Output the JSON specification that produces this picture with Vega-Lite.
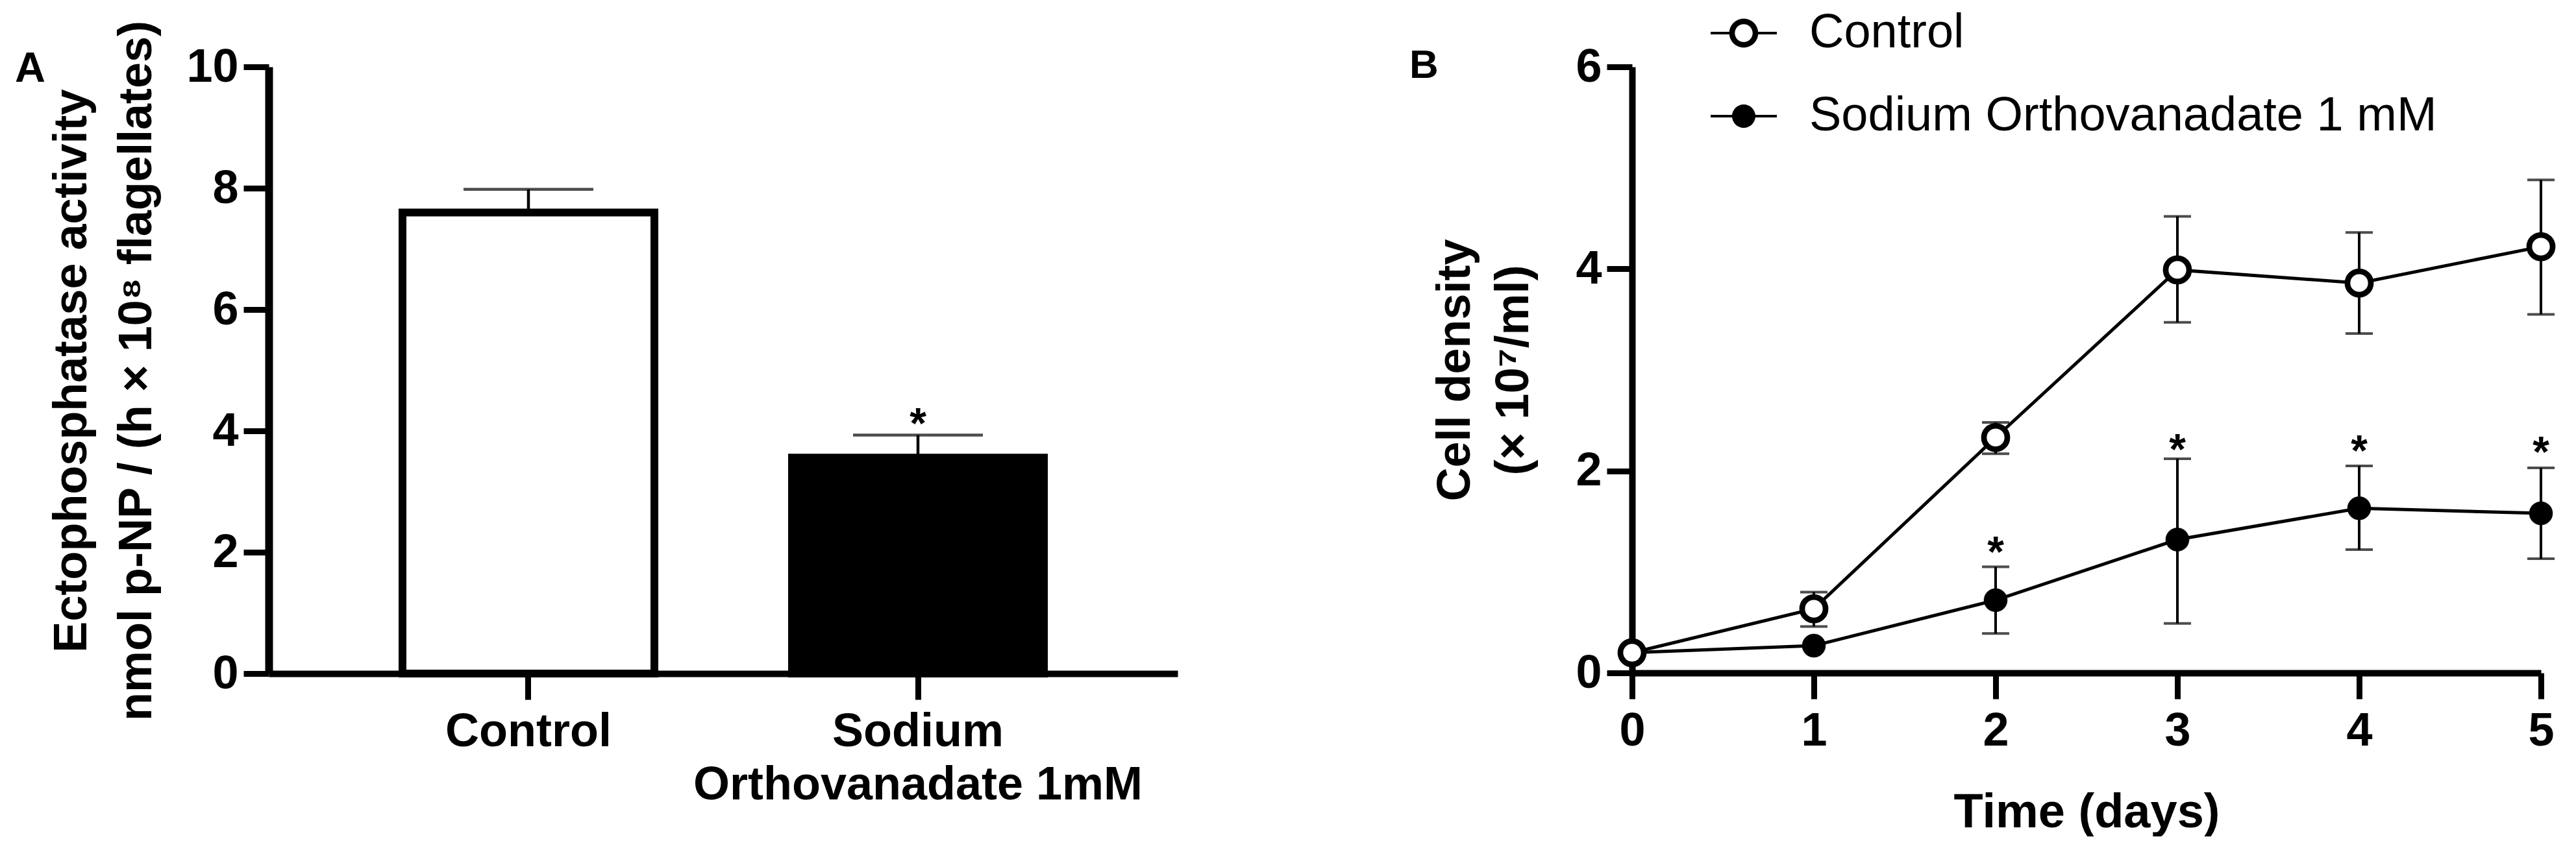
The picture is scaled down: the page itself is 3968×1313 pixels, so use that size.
{
  "$schema": "https://vega.github.io/schema/vega-lite/v6.json",
  "background": "white",
  "padding": {"left": 23, "top": 0, "right": 10, "bottom": 0},
  "bounds": "flush",
  "spacing": 700,
  "resolve": {"scale": {"shape": "independent"}, "legend": {"shape": "independent"}},
  "config": {
    "view": {"stroke": null},
    "font": "Liberation Sans",
    "axis": {
      "domainColor": "black", "tickColor": "black", "labelColor": "black", "titleColor": "black",
      "labelFont": "Liberation Sans", "titleFont": "Liberation Sans",
      "labelFontWeight": "bold", "titleFontWeight": "bold",
      "labelFontSize": 72, "titleFontSize": 72,
      "grid": false, "tickSize": 39, "tickWidth": 9, "domainWidth": 10,
      "labelPadding": 8, "labelLimit": 3000, "labelOverlap": false, "labelFlush": false
    },
    "title": {"font": "Liberation Sans", "fontWeight": "bold", "color": "black"}
  },
  "hconcat": [
    {
      "width": 1400,
      "height": 935,
      "title": {"text": "A", "anchor": "start", "frame": "group", "orient": "top", "fontSize": 65, "dx": -391, "dy": 160, "offset": 0, "baseline": "alphabetic"},
      "data": {"values": [
        {"group": "Control", "mean": 7.6, "upper": 7.98, "star": null},
        {"group": "Sodium Orthovanadate 1mM", "mean": 3.56, "upper": 3.93, "star": 4.29}
      ]},
      "encoding": {
        "x": {
          "field": "group", "type": "nominal", "sort": null,
          "scale": {"domain": ["Control", "Sodium Orthovanadate 1mM"], "paddingInner": 0.3533, "paddingOuter": 0.3433},
          "axis": {
            "title": null, "labelAngle": 0, "tickSize": 40, "labelPadding": 14,
            "labelExpr": "datum.value === 'Sodium Orthovanadate 1mM' ? ['Sodium', 'Orthovanadate 1mM'] : datum.label",
            "labelLineHeight": 82, "labelBaseline": "top"
          }
        }
      },
      "layer": [
        {
          "mark": {"type": "rule", "strokeWidth": 4.5, "color": "black"},
          "encoding": {
            "y": {
              "field": "mean", "type": "quantitative",
              "scale": {"domain": [0, 10], "nice": false},
              "axis": {
                "values": [0, 2, 4, 6, 8, 10], "format": "d", "domainWidth": 12,
                "title": ["Ectophosphatase activity", "nmol p-NP / (h × 10⁸ flagellates)"],
                "titleAngle": -90, "titleBaseline": "alphabetic", "titleAlign": "center",
                "titleX": -282, "titleY": 468, "titleLineHeight": 100
              }
            },
            "y2": {"field": "upper"}
          }
        },
        {
          "mark": {"type": "tick", "size": 200, "thickness": 4.5, "color": "black", "orient": "horizontal"},
          "encoding": {"y": {"field": "upper", "type": "quantitative"}}
        },
        {
          "mark": {"type": "bar", "stroke": "black", "strokeWidth": 12},
          "encoding": {
            "y": {"field": "mean", "type": "quantitative"},
            "fill": {"field": "group", "type": "nominal", "scale": {"domain": ["Control", "Sodium Orthovanadate 1mM"], "range": ["white", "black"]}, "legend": null}
          }
        },
        {
          "transform": [{"filter": "isValid(datum.star)"}],
          "mark": {"type": "text", "text": "*", "fontSize": 66, "fontWeight": "bold", "font": "Liberation Sans", "color": "black", "baseline": "middle", "dy": 18},
          "encoding": {"y": {"field": "star", "type": "quantitative"}}
        }
      ]
    },
    {
      "width": 1400,
      "height": 934,
      "title": {"text": "B", "anchor": "start", "frame": "group", "orient": "top", "fontSize": 62, "dx": -343, "dy": 182, "offset": 0, "baseline": "alphabetic"},
      "data": {"values": [
        {"day": 0, "series": "Sodium Orthovanadate 1 mM", "mean": 0.2, "lo": null, "hi": null, "star": null},
        {"day": 1, "series": "Sodium Orthovanadate 1 mM", "mean": 0.27, "lo": null, "hi": null, "star": null},
        {"day": 2, "series": "Sodium Orthovanadate 1 mM", "mean": 0.72, "lo": 0.39, "hi": 1.05, "star": 1.3},
        {"day": 3, "series": "Sodium Orthovanadate 1 mM", "mean": 1.32, "lo": 0.49, "hi": 2.12, "star": 2.31},
        {"day": 4, "series": "Sodium Orthovanadate 1 mM", "mean": 1.63, "lo": 1.22, "hi": 2.05, "star": 2.3},
        {"day": 5, "series": "Sodium Orthovanadate 1 mM", "mean": 1.58, "lo": 1.13, "hi": 2.03, "star": 2.29},
        {"day": 0, "series": "Control", "mean": 0.2, "lo": null, "hi": null, "star": null},
        {"day": 1, "series": "Control", "mean": 0.635, "lo": 0.46, "hi": 0.8, "star": null},
        {"day": 2, "series": "Control", "mean": 2.33, "lo": 2.17, "hi": 2.48, "star": null},
        {"day": 3, "series": "Control", "mean": 3.99, "lo": 3.47, "hi": 4.52, "star": null},
        {"day": 4, "series": "Control", "mean": 3.86, "lo": 3.36, "hi": 4.36, "star": null},
        {"day": 5, "series": "Control", "mean": 4.22, "lo": 3.55, "hi": 4.88, "star": null}
      ]},
      "encoding": {
        "x": {
          "field": "day", "type": "quantitative",
          "scale": {"domain": [0, 5], "nice": false, "zero": false},
          "axis": {
            "values": [0, 1, 2, 3, 4, 5], "format": "d", "tickSize": 40, "labelPadding": 14,
            "title": "Time (days)", "titleBaseline": "alphabetic", "titleY": 237, "titleFontSize": 74
          }
        }
      },
      "layer": [
        {
          "transform": [{"filter": "isValid(datum.lo)"}],
          "mark": {"type": "rule", "strokeWidth": 4, "color": "black"},
          "encoding": {
            "y": {
              "field": "lo", "type": "quantitative",
              "scale": {"domain": [0, 6], "nice": false},
              "axis": {
                "values": [0, 2, 4, 6], "format": "d",
                "title": ["Cell density", "(× 10⁷/ml)"],
                "titleAngle": -90, "titleBaseline": "alphabetic", "titleAlign": "center",
                "titleX": -251, "titleY": 467, "titleLineHeight": 90
              }
            },
            "y2": {"field": "hi"}
          }
        },
        {
          "transform": [{"filter": "isValid(datum.lo)"}],
          "mark": {"type": "tick", "orient": "horizontal", "size": 42, "thickness": 4, "color": "black"},
          "encoding": {"y": {"field": "lo", "type": "quantitative"}}
        },
        {
          "transform": [{"filter": "isValid(datum.hi)"}],
          "mark": {"type": "tick", "orient": "horizontal", "size": 42, "thickness": 4, "color": "black"},
          "encoding": {"y": {"field": "hi", "type": "quantitative"}}
        },
        {
          "mark": {"type": "line", "color": "black", "strokeWidth": 5},
          "encoding": {
            "y": {"field": "mean", "type": "quantitative"},
            "detail": {"field": "series", "type": "nominal"}
          }
        },
        {
          "transform": [{"filter": "datum.series !== 'Control'"}],
          "mark": {"type": "point", "shape": "circle", "size": 1300, "filled": true, "fill": "black", "stroke": "black", "strokeWidth": 0.5, "opacity": 1},
          "encoding": {"y": {"field": "mean", "type": "quantitative"}}
        },
        {
          "transform": [{"filter": "datum.series === 'Control'"}],
          "mark": {"type": "point", "shape": "circle", "size": 1300, "filled": true, "fill": "white", "stroke": "black", "strokeWidth": 8.7, "opacity": 1},
          "encoding": {"y": {"field": "mean", "type": "quantitative"}}
        },
        {
          "transform": [{"filter": "isValid(datum.star)"}],
          "mark": {"type": "text", "text": "*", "fontSize": 66, "fontWeight": "bold", "font": "Liberation Sans", "color": "black", "baseline": "middle", "dy": 18},
          "encoding": {"y": {"field": "star", "type": "quantitative"}}
        },
        {
          "mark": {"type": "point", "opacity": 0, "filled": true, "color": "black"},
          "encoding": {
            "y": {"field": "mean", "type": "quantitative"},
            "shape": {
              "field": "series", "type": "nominal",
              "scale": {
                "domain": ["Control", "Sodium Orthovanadate 1 mM"],
                "range": [
                  "M-1,-0.04H-0.43V0.04H-1ZM0.43,-0.04H1V0.04H0.43ZM-0.437,0A0.437,0.437,0,1,1,0.437,0A0.437,0.437,0,1,1,-0.437,0ZM-0.269,0A0.269,0.269,0,1,0,0.269,0A0.269,0.269,0,1,0,-0.269,0Z",
                  "M-1,-0.04H-0.345V0.04H-1ZM0.345,-0.04H1V0.04H0.345ZM-0.353,0A0.353,0.353,0,1,1,0.353,0A0.353,0.353,0,1,1,-0.353,0Z"
                ]
              },
              "legend": {
                "orient": "none", "legendX": 121, "legendY": -103, "title": null,
                "labelFont": "Liberation Sans", "labelFontSize": 74, "labelFontWeight": "normal", "labelColor": "black",
                "labelLimit": 3000, "labelOffset": 50, "rowPadding": 40, "padding": 0,
                "symbolSize": 10404, "symbolStrokeWidth": 0, "symbolFillColor": "black", "symbolStrokeColor": "black", "symbolOpacity": 1,
                "encode": {"symbols": {"update": {"opacity": {"value": 1}, "fill": {"value": "black"}, "strokeWidth": {"value": 0}}}}
              }
            }
          }
        }
      ]
    }
  ]
}
